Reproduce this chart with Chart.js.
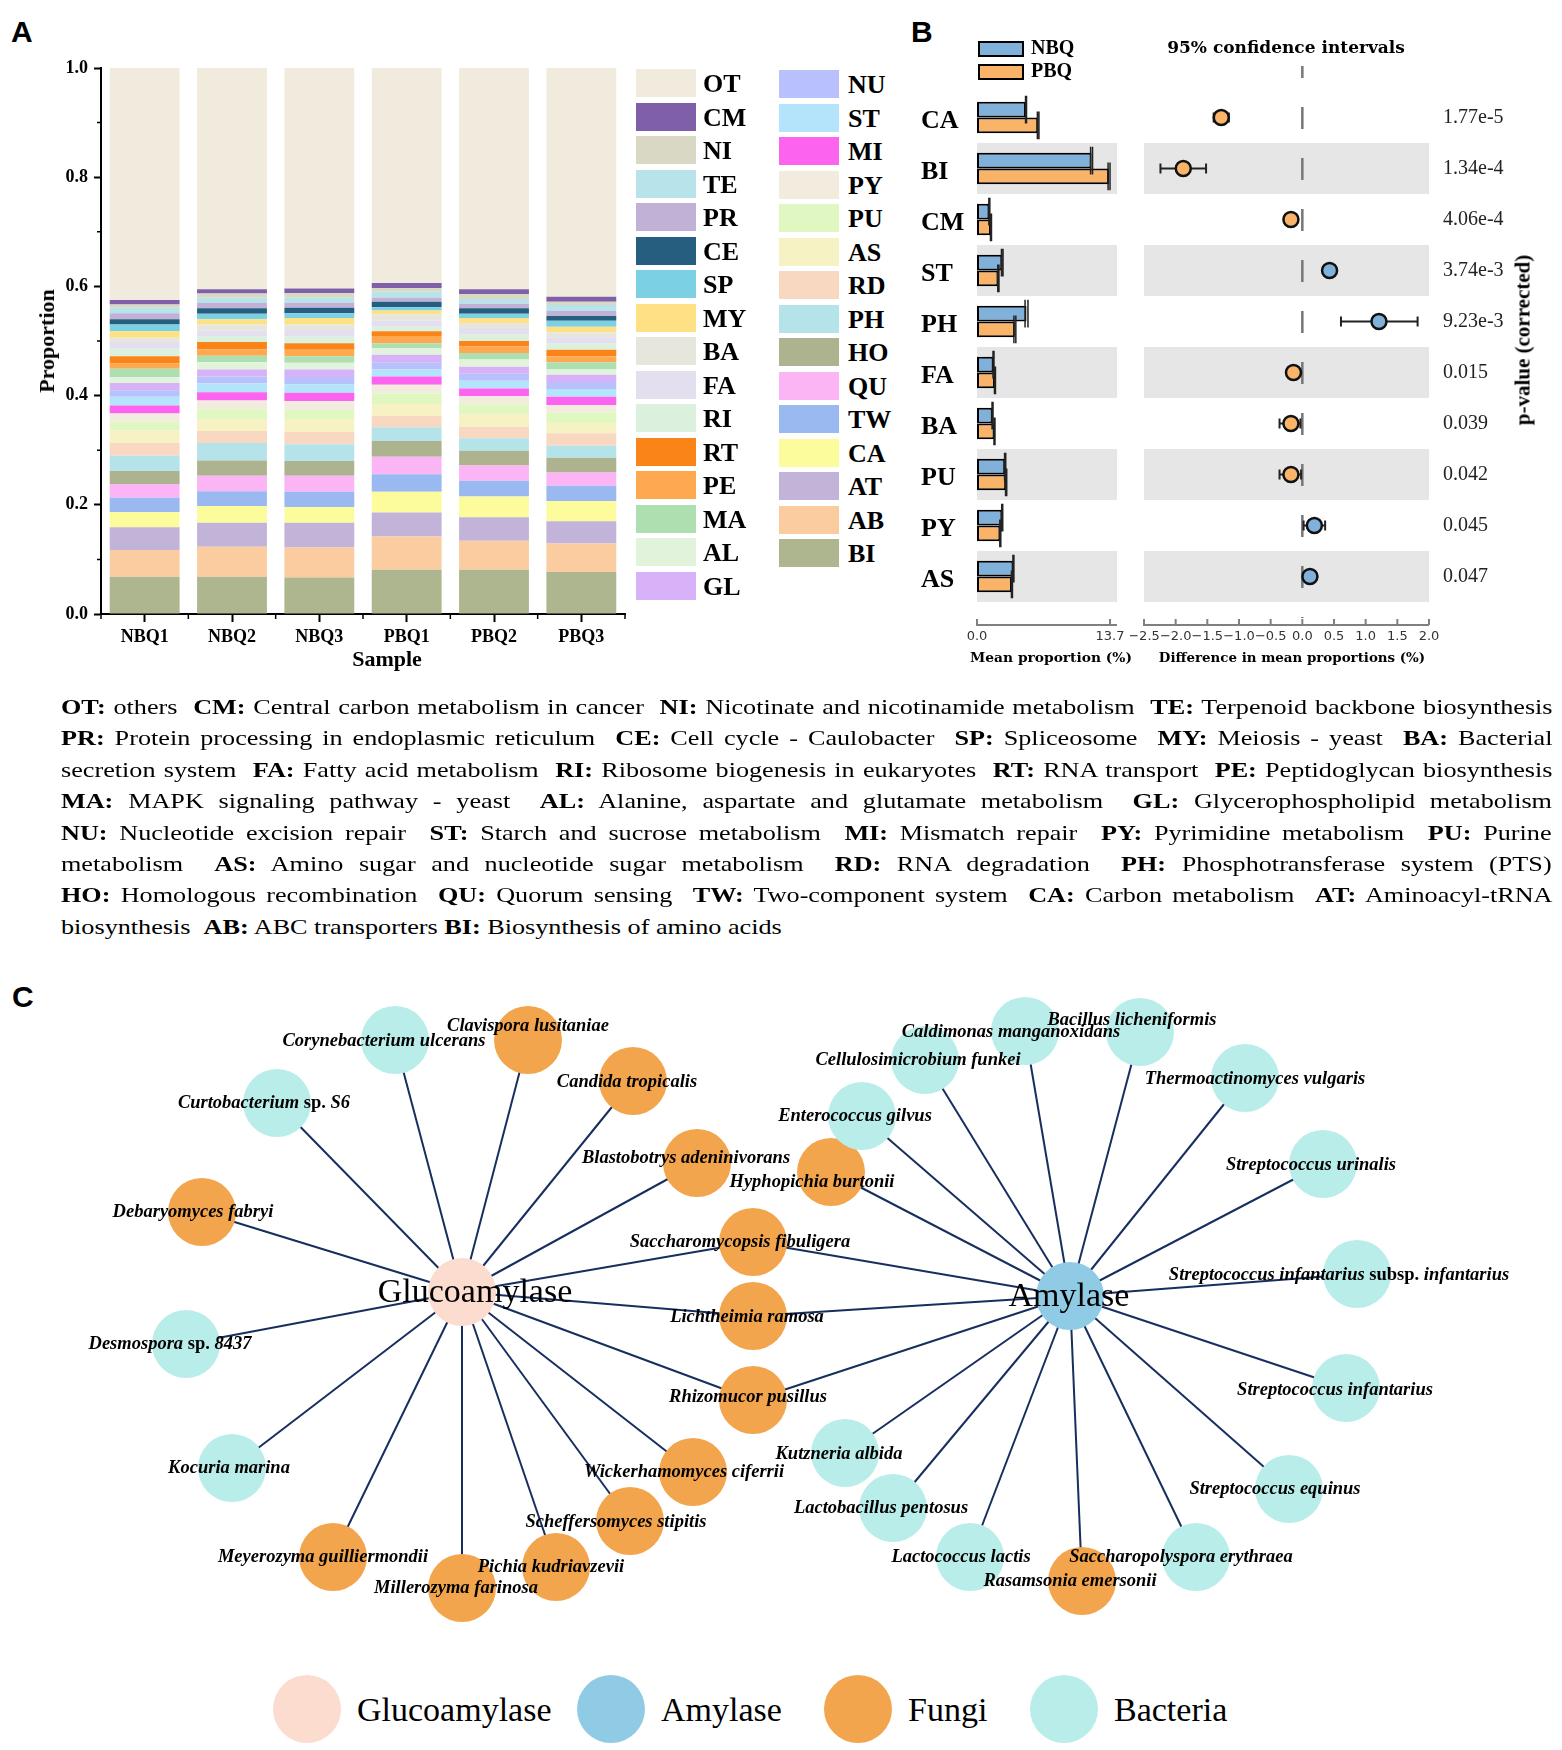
<!DOCTYPE html>
<html>
<head>
<meta charset="utf-8">
<title>Pathway abundance, STAMP comparison and enzyme networks</title>
<script src="https://cdn.jsdelivr.net/npm/chart.js@4.4.1/dist/chart.umd.min.js"></script>
<style>
  html, body { margin: 0; padding: 0; background: #fff; }
  #page { position: relative; width: 1562px; height: 1750px; overflow: hidden; font-family: "Liberation Serif", "Times New Roman", serif; color: #000; }
  #page canvas { position: absolute; }
  .t { position: absolute; white-space: nowrap; line-height: 1; }
  .panel { font-family: "Liberation Sans", Arial, sans-serif; font-weight: bold; font-size: 30px; }
  .sw { position: absolute; }
  .para { position: absolute; left: 61px; font-size: 22px; line-height: 31px; white-space: pre; transform: scaleX(1.19); transform-origin: 0 50%; }
  .dot { position: absolute; width: 68px; height: 68px; border-radius: 50%; }
</style>
</head>
<body>
<div id="page">
  <div class="t panel" style="left:11px;top:17px">A</div>
  <div class="t panel" style="left:911px;top:17px">B</div>
  <div class="t panel" style="left:12px;top:982px">C</div>
  <canvas id="chartA" width="640" height="660" style="left:0;top:40px"></canvas>
  <canvas id="chartB1" width="230" height="620" style="left:900px;top:60px"></canvas>
  <canvas id="chartB2" width="432" height="640" style="left:1130px;top:40px"></canvas>
  <canvas id="chartC" width="1562" height="700" style="left:0;top:960px"></canvas>
</div>
<script>
// ---------- A: relative abundance of KEGG pathways ----------
const samples = ['NBQ1', 'NBQ2', 'NBQ3', 'PBQ1', 'PBQ2', 'PBQ3'];
const pathways = ['OT', 'CM', 'NI', 'TE', 'PR', 'CE', 'SP', 'MY', 'BA', 'FA', 'RI', 'RT', 'PE', 'MA', 'AL', 'GL',
                  'NU', 'ST', 'MI', 'PY', 'PU', 'AS', 'RD', 'PH', 'HO', 'QU', 'TW', 'CA', 'AT', 'AB', 'BI'];
const pathwayColors = ['#f0ebdc', '#7f5fa8', '#d8d8c5', '#b9e3ea', '#c1b1d6', '#255e7e', '#7bd0e4', '#fde184',
                       '#e6e6dc', '#e3dfef', '#dbf0dd', '#fb8418', '#fea84f', '#aedfb1', '#e2f3dc', '#d7b2f8',
                       '#b9c1fc', '#b4e4fb', '#fc63ee', '#f2ecdf', '#e1f7c2', '#f6f2c3', '#f9d8c1', '#b4e3ea',
                       '#aeb38f', '#fbb5f5', '#9bb9f1', '#fdfc9d', '#c2b3d8', '#fbcca0', '#aeb690'];
// proportions per sample, in the order of `pathways`
const NBQ1 = [0.425, 0.008, 0.006, 0.010, 0.011, 0.010, 0.012, 0.012, 0.008, 0.012, 0.014, 0.013, 0.010, 0.015, 0.011, 0.013,
              0.012, 0.016, 0.015, 0.015, 0.016, 0.023, 0.023, 0.028, 0.024, 0.025, 0.026, 0.028, 0.042, 0.049, 0.068];
const NBQ2 = [0.405, 0.008, 0.008, 0.009, 0.010, 0.010, 0.010, 0.010, 0.011, 0.010, 0.011, 0.013, 0.012, 0.012, 0.013, 0.013,
              0.013, 0.016, 0.015, 0.016, 0.018, 0.022, 0.022, 0.032, 0.028, 0.028, 0.027, 0.031, 0.044, 0.055, 0.068];
const NBQ3 = [0.404, 0.008, 0.009, 0.009, 0.009, 0.010, 0.009, 0.012, 0.010, 0.012, 0.012, 0.012, 0.012, 0.012, 0.012, 0.014,
              0.013, 0.016, 0.015, 0.016, 0.017, 0.023, 0.023, 0.031, 0.027, 0.029, 0.028, 0.029, 0.045, 0.055, 0.067];
const PBQ1 = [0.394, 0.009, 0.007, 0.011, 0.007, 0.010, 0.006, 0.007, 0.012, 0.011, 0.008, 0.009, 0.013, 0.009, 0.012, 0.014,
              0.013, 0.013, 0.015, 0.016, 0.020, 0.021, 0.021, 0.025, 0.029, 0.032, 0.032, 0.038, 0.044, 0.061, 0.081];
const PBQ2 = [0.405, 0.009, 0.009, 0.009, 0.008, 0.010, 0.008, 0.009, 0.009, 0.012, 0.012, 0.010, 0.012, 0.012, 0.013, 0.013,
              0.013, 0.014, 0.014, 0.015, 0.018, 0.023, 0.021, 0.023, 0.027, 0.028, 0.029, 0.038, 0.043, 0.053, 0.081];
const PBQ3 = [0.419, 0.009, 0.006, 0.011, 0.009, 0.009, 0.011, 0.010, 0.009, 0.012, 0.011, 0.012, 0.011, 0.013, 0.010, 0.013,
              0.013, 0.014, 0.015, 0.014, 0.019, 0.019, 0.023, 0.022, 0.027, 0.024, 0.028, 0.037, 0.041, 0.052, 0.077];
const yTicksA = [0, 0.2, 0.4, 0.6, 0.8, 1.0];

// ---------- B: extended error bar (NBQ vs PBQ) ----------
const diffCats = ['CA', 'BI', 'CM', 'ST', 'PH', 'FA', 'BA', 'PU', 'PY', 'AS'];
const meanNBQ = [5.05, 11.8, 1.27, 2.6, 5.1, 1.7, 1.6, 2.9, 2.6, 3.75];
const meanPBQ = [6.3, 13.6, 1.44, 2.2, 3.9, 1.85, 1.8, 3.0, 2.4, 3.6];
const sdNBQ = [0.05, 0.1, 0.05, 0.08, 0.15, 0.05, 0.05, 0.06, 0.05, 0.05];
const sdPBQ = [0.08, 0.1, 0.05, 0.06, 0.1, 0.05, 0.05, 0.06, 0.05, 0.05];
const diffMean = [-1.28, -1.88, -0.18, 0.43, 1.21, -0.14, -0.18, -0.18, 0.19, 0.12];
const ciLow = [-1.40, -2.24, -0.21, 0.38, 0.61, -0.17, -0.36, -0.36, 0.02, 0.09];
const ciHigh = [-1.16, -1.52, -0.15, 0.48, 1.82, -0.11, -0.03, -0.02, 0.36, 0.15];
const pValues = ['1.77e-5', '1.34e-4', '4.06e-4', '3.74e-3', '9.23e-3', '0.015', '0.039', '0.042', '0.045', '0.047'];
const meanTicks = [0, 13.7];
const diffTicks = [-2.5, -2.0, -1.5, -1.0, -0.5, 0.0, 0.5, 1.0, 1.5, 2.0];

// ---------- C: enzyme - microbe network ----------
const nodeNames = ['Glucoamylase', 'Amylase',
  'Clavispora lusitaniae', 'Candida tropicalis', 'Blastobotrys adeninivorans', 'Debaryomyces fabryi',
  'Saccharomycopsis fibuligera', 'Lichtheimia ramosa', 'Rhizomucor pusillus', 'Wickerhamomyces ciferrii',
  'Scheffersomyces stipitis', 'Meyerozyma guilliermondii', 'Pichia kudriavzevii', 'Millerozyma farinosa',
  'Hyphopichia burtonii', 'Rasamsonia emersonii',
  'Corynebacterium ulcerans', 'Curtobacterium sp. S6', 'Desmospora sp. 8437', 'Kocuria marina',
  'Caldimonas manganoxidans', 'Bacillus licheniformis', 'Cellulosimicrobium funkei', 'Thermoactinomyces vulgaris',
  'Enterococcus gilvus', 'Streptococcus urinalis', 'Streptococcus infantarius subsp. infantarius',
  'Streptococcus infantarius', 'Kutzneria albida', 'Lactobacillus pentosus', 'Streptococcus equinus',
  'Lactococcus lactis', 'Saccharopolyspora erythraea'];
const nodeType = ['glucoamylase', 'amylase',
  'fungi', 'fungi', 'fungi', 'fungi', 'fungi', 'fungi', 'fungi', 'fungi', 'fungi', 'fungi', 'fungi', 'fungi', 'fungi', 'fungi',
  'bacteria', 'bacteria', 'bacteria', 'bacteria', 'bacteria', 'bacteria', 'bacteria', 'bacteria', 'bacteria',
  'bacteria', 'bacteria', 'bacteria', 'bacteria', 'bacteria', 'bacteria', 'bacteria', 'bacteria'];
// layout of the network (node centres and label anchors)
const nodeX = [462, 1070, 528, 633, 697, 202, 753, 753, 753, 693, 630, 333, 556, 462, 831, 1082,
               395, 277, 186, 232, 1025, 1140, 925, 1245, 862, 1323, 1357, 1346, 845, 893, 1289, 970, 1196];
const nodeY = [1292, 1296, 1040, 1081, 1163, 1212, 1242, 1316, 1400, 1472, 1521, 1557, 1567, 1588, 1172, 1581,
               1040, 1103, 1344, 1468, 1031, 1032, 1060, 1078, 1116, 1164, 1274, 1388, 1453, 1508, 1489, 1557, 1557];
const labelX = [475, 1069, 528, 627, 686, 193, 740, 747, 748, 684, 616, 323, 551, 456, 812, 1070,
                384, 264, 170, 229, 1011, 1132, 918, 1255, 855, 1311, 1339, 1335, 839, 881, 1275, 961, 1181];
const labelY = [1293, 1297, 1026, 1082, 1158, 1212, 1242, 1317, 1397, 1472, 1522, 1557, 1567, 1588, 1182, 1581,
                1041, 1103, 1344, 1468, 1032, 1020, 1060, 1079, 1116, 1165, 1275, 1390, 1454, 1508, 1489, 1557, 1557];
const glucoamylaseLinks = ['Corynebacterium ulcerans', 'Clavispora lusitaniae', 'Candida tropicalis', 'Curtobacterium sp. S6',
  'Blastobotrys adeninivorans', 'Debaryomyces fabryi', 'Saccharomycopsis fibuligera', 'Lichtheimia ramosa',
  'Desmospora sp. 8437', 'Rhizomucor pusillus', 'Kocuria marina', 'Meyerozyma guilliermondii', 'Millerozyma farinosa',
  'Pichia kudriavzevii', 'Scheffersomyces stipitis', 'Wickerhamomyces ciferrii'];
const amylaseLinks = ['Caldimonas manganoxidans', 'Bacillus licheniformis', 'Cellulosimicrobium funkei',
  'Thermoactinomyces vulgaris', 'Enterococcus gilvus', 'Hyphopichia burtonii', 'Streptococcus urinalis',
  'Streptococcus infantarius subsp. infantarius', 'Saccharomycopsis fibuligera', 'Lichtheimia ramosa', 'Rhizomucor pusillus',
  'Streptococcus infantarius', 'Kutzneria albida', 'Lactobacillus pentosus', 'Lactococcus lactis', 'Rasamsonia emersonii',
  'Saccharopolyspora erythraea', 'Streptococcus equinus'];
const legendC = [['Glucoamylase', 'glucoamylase'], ['Amylase', 'amylase'], ['Fungi', 'fungi'], ['Bacteria', 'bacteria']];

const NBQ_COLOR = '#80b1da';
const PBQ_COLOR = '#f9b46a';
const typeColors = { glucoamylase: '#fbdccf', amylase: '#90cbe5', fungi: '#f3a54e', bacteria: '#b9ede9' };
const EDGE_COLOR = '#172f5e';

Chart.defaults.font.family = '"Liberation Serif", "Times New Roman", serif';
Chart.defaults.color = '#000';
const page = document.getElementById('page');

function putText(txt, x, y, css, align) {
    const d = document.createElement('div');
    d.className = 't';
    d.textContent = txt;
    d.style.cssText += css;
    d.style.left = x + 'px';
    d.style.top = y + 'px';
    d.style.transform = align === 'left' ? 'translate(0,-50%)' : 'translate(-50%,-50%)';
    page.appendChild(d);
    return d;
}

// 1. PANEL A - STACKED BARS
const minorTicksA = {
    id: 'minorTicksA',
    afterDraw(chart) {
        const { ctx, chartArea, scales: { x, y } } = chart;
        ctx.save();
        ctx.strokeStyle = '#000';
        ctx.lineWidth = 1.5;
        ctx.beginPath();
        for (let k = 0; k < yTicksA.length - 1; k++) {
            const py = y.getPixelForValue((yTicksA[k] + yTicksA[k + 1]) / 2);
            ctx.moveTo(chartArea.left - 4, py);
            ctx.lineTo(chartArea.left, py);
        }
        const half = (x.getPixelForValue(1) - x.getPixelForValue(0)) / 2;
        for (let i = 0; i <= samples.length; i++) {
            const px = x.getPixelForValue(i) - half;
            ctx.moveTo(px, chartArea.bottom);
            ctx.lineTo(px, chartArea.bottom + 5);
        }
        ctx.stroke();
        ctx.restore();
    }
};

const sampleRows = [NBQ1, NBQ2, NBQ3, PBQ1, PBQ2, PBQ3];
const datasetsA = pathways.map((p, k) => ({
    label: p,
    data: sampleRows.map(r => r[k]),
    backgroundColor: pathwayColors[k],
    borderWidth: 0,
    barPercentage: 0.8,
    categoryPercentage: 1.0
})).reverse();

new Chart(document.getElementById('chartA'), {
    type: 'bar',
    data: { labels: samples, datasets: datasetsA },
    options: {
        responsive: false, animation: false, devicePixelRatio: 1,
        layout: { padding: { left: 0, top: 28, right: 15, bottom: 0 } },
        plugins: { legend: { display: false }, tooltip: { enabled: false } },
        scales: {
            x: {
                stacked: true,
                grid: { offset: false, drawOnChartArea: false, tickLength: 8, tickWidth: 2, tickColor: '#000' },
                border: { color: '#000', width: 2 },
                ticks: { font: { size: 18, weight: 'bold' }, color: '#000', padding: 5, maxRotation: 0 },
                afterFit: s => { s.height = 86; }
            },
            y: {
                stacked: true, min: 0, max: 1,
                afterBuildTicks: s => { s.ticks = yTicksA.map(v => ({ value: v })); },
                grid: { drawOnChartArea: false, tickLength: 7, tickWidth: 2, tickColor: '#000' },
                border: { color: '#000', width: 2 },
                ticks: { font: { size: 18, weight: 'bold' }, color: '#000', padding: 6, callback: v => Number(v).toFixed(1) },
                afterFit: s => { s.width = 101; }
            }
        }
    },
    plugins: [minorTicksA]
});

putText('Proportion', 47, 341, 'font-size:22px;font-weight:bold;').style.transform = 'translate(-50%,-50%) rotate(-90deg)';
putText('Sample', 387, 659, 'font-size:22px;font-weight:bold;');

// legend of panel A (two columns)
pathways.forEach((p, k) => {
    const col = k < 16 ? 0 : 1;
    const row = col ? k - 16 : k;
    const top = (col ? 70 : 69) + row * 33.5;
    const sw = document.createElement('div');
    sw.className = 'sw';
    sw.style.cssText = `left:${col ? 779 : 636}px;top:${top}px;width:60px;height:28px;background:${pathwayColors[k]};`;
    page.appendChild(sw);
    putText(p, col ? 848 : 703, top + 15, 'font-size:26px;font-weight:bold;', 'left');
});

// 2. PANEL B - MEAN PROPORTIONS AND 95% CI
const rowBands = {
    id: 'rowBands',
    beforeDatasetsDraw(chart) {
        const { ctx, chartArea, scales } = chart;
        const ys = scales.y;
        const pitch = ys.getPixelForValue(1) - ys.getPixelForValue(0);
        ctx.save();
        ctx.fillStyle = '#e6e6e6';
        diffCats.forEach((c, i) => {
            if (i % 2 === 1) {
                const py = ys.getPixelForValue(i);
                ctx.fillRect(chartArea.left, py - pitch / 2, chartArea.right - chartArea.left, pitch);
            }
        });
        ctx.restore();
    }
};

function bottomAxis(ticks, fmt) {
    return {
        id: 'bottomAxis',
        afterDraw(chart) {
            const { ctx, chartArea, scales: { x } } = chart;
            const y0 = chartArea.bottom + 23;
            ctx.save();
            ctx.strokeStyle = '#808080';
            ctx.lineWidth = 2;
            ctx.beginPath();
            ctx.moveTo(chartArea.left - 1, y0);
            ctx.lineTo(chartArea.right, y0);
            ticks.forEach(v => {
                const px = x.getPixelForValue(v);
                ctx.moveTo(px, y0);
                ctx.lineTo(px, y0 - 6);
            });
            ctx.stroke();
            ctx.fillStyle = '#333';
            ctx.font = '13px "DejaVu Sans"';
            ctx.textAlign = 'center';
            ctx.textBaseline = 'middle';
            ticks.forEach(v => ctx.fillText(fmt(v), x.getPixelForValue(v), y0 + 12));
            ctx.restore();
        }
    };
}

const barErrors = {
    id: 'barErrors',
    afterDatasetsDraw(chart) {
        const { ctx, scales: { x } } = chart;
        ctx.save();
        ctx.strokeStyle = '#222';
        ctx.lineWidth = 1.5;
        chart.data.datasets.forEach((ds, di) => {
            chart.getDatasetMeta(di).data.forEach((bar, i) => {
                const top = bar.y - bar.height / 2 - 6, bottom = bar.y + bar.height / 2 + 6;
                ctx.beginPath();
                [ds.data[i] - ds.sd[i], ds.data[i] + ds.sd[i]].forEach(v => {
                    const px = x.getPixelForValue(v);
                    ctx.moveTo(px, top);
                    ctx.lineTo(px, bottom);
                });
                ctx.stroke();
            });
        });
        ctx.restore();
    }
};

new Chart(document.getElementById('chartB1'), {
    type: 'bar',
    data: {
        labels: diffCats,
        datasets: [
            { label: 'NBQ', data: meanNBQ, sd: sdNBQ, backgroundColor: NBQ_COLOR, borderColor: '#000', borderWidth: 2, borderSkipped: false, barPercentage: 1, categoryPercentage: 0.62 },
            { label: 'PBQ', data: meanPBQ, sd: sdPBQ, backgroundColor: PBQ_COLOR, borderColor: '#000', borderWidth: 2, borderSkipped: false, barPercentage: 1, categoryPercentage: 0.62 }
        ]
    },
    options: {
        indexAxis: 'y', responsive: false, animation: false, devicePixelRatio: 1,
        layout: { autoPadding: false, padding: { left: 21, top: 32, right: 13, bottom: 78 } },
        plugins: { legend: { display: false }, tooltip: { enabled: false } },
        scales: {
            x: { display: false, min: 0, max: 14.42 },
            y: {
                grid: { display: false }, border: { display: false },
                ticks: { font: { size: 26, weight: 'bold' }, color: '#000', crossAlign: 'far', padding: 0, labelOffset: 4 },
                afterFit: s => { s.width = 56; }
            }
        }
    },
    plugins: [rowBands, barErrors, bottomAxis(meanTicks, v => v.toFixed(1))]
});

const zeroLine = {
    id: 'zeroLine',
    beforeDatasetsDraw(chart) {
        const { ctx, chartArea, scales: { x } } = chart;
        const px = x.getPixelForValue(0);
        ctx.save();
        ctx.strokeStyle = '#777';
        ctx.lineWidth = 2.5;
        ctx.setLineDash([22, 29]);
        ctx.lineDashOffset = 10;
        ctx.beginPath();
        ctx.moveTo(px, chartArea.top - 26);
        ctx.lineTo(px, chartArea.bottom + 16);
        ctx.stroke();
        ctx.restore();
    }
};

const ciBars = {
    id: 'ciBars',
    beforeDatasetsDraw(chart) {
        const { ctx, scales: { x, y } } = chart;
        ctx.save();
        ctx.strokeStyle = '#222';
        ctx.lineWidth = 2;
        diffCats.forEach((c, i) => {
            const py = y.getPixelForValue(i);
            const x1 = x.getPixelForValue(ciLow[i]), x2 = x.getPixelForValue(ciHigh[i]);
            ctx.beginPath();
            ctx.moveTo(x1, py); ctx.lineTo(x2, py);
            ctx.moveTo(x1, py - 5); ctx.lineTo(x1, py + 5);
            ctx.moveTo(x2, py - 5); ctx.lineTo(x2, py + 5);
            ctx.stroke();
        });
        ctx.restore();
    }
};

new Chart(document.getElementById('chartB2'), {
    type: 'scatter',
    data: {
        datasets: [{
            data: diffCats.map((c, i) => ({ x: diffMean[i], y: c })),
            pointRadius: 7.5,
            borderWidth: 2.5,
            borderColor: '#111',
            backgroundColor: diffMean.map(v => v < 0 ? PBQ_COLOR : NBQ_COLOR)
        }]
    },
    options: {
        responsive: false, animation: false, devicePixelRatio: 1,
        layout: { autoPadding: false, padding: { left: 14, top: 52, right: 0, bottom: 78 } },
        plugins: { legend: { display: false }, tooltip: { enabled: false } },
        scales: {
            x: { type: 'linear', display: false, min: -2.5, max: 2.0 },
            y: { type: 'category', labels: diffCats, offset: true, display: false },
            p: {
                type: 'category', labels: pValues, position: 'right', offset: true,
                grid: { display: false }, border: { display: false },
                ticks: { font: { size: 20 }, color: '#222', padding: 6, crossAlign: 'near' },
                afterFit: s => { s.width = 133; }
            }
        }
    },
    plugins: [rowBands, zeroLine, ciBars, bottomAxis(diffTicks, v => v.toFixed(1).replace('-', '\u2212'))]
});

// titles and legend of panel B
putText('95% confidence intervals', 1286, 47, 'font-family:"DejaVu Serif";font-weight:bold;font-size:17px;');
putText('Mean proportion (%)', 1051, 658, 'font-family:"DejaVu Serif";font-weight:bold;font-size:13.8px;');
putText('Difference in mean proportions (%)', 1292, 658, 'font-family:"DejaVu Serif";font-weight:bold;font-size:13.4px;');
putText('p-value (corrected)', 1523, 340, 'font-size:21px;font-weight:bold;').style.transform = 'translate(-50%,-50%) rotate(-90deg)';
[['NBQ', NBQ_COLOR, 41], ['PBQ', PBQ_COLOR, 64]].forEach(([name, color, top]) => {
    const sw = document.createElement('div');
    sw.className = 'sw';
    sw.style.cssText = `left:978px;top:${top}px;width:42px;height:12px;background:${color};border:2px solid #000;`;
    page.appendChild(sw);
    putText(name, 1031, top + 6, 'font-size:20px;font-weight:bold;', 'left');
});

// 3. ABBREVIATION TEXT
const paraLines = [
    '<b>OT:</b> others  <b>CM:</b> Central carbon metabolism in cancer  <b>NI:</b> Nicotinate and nicotinamide metabolism  <b>TE:</b> Terpenoid backbone biosynthesis',
    '<b>PR:</b> Protein processing in endoplasmic reticulum  <b>CE:</b> Cell cycle - Caulobacter  <b>SP:</b> Spliceosome  <b>MY:</b> Meiosis - yeast  <b>BA:</b> Bacterial',
    'secretion system  <b>FA:</b> Fatty acid metabolism  <b>RI:</b> Ribosome biogenesis in eukaryotes  <b>RT:</b> RNA transport  <b>PE:</b> Peptidoglycan biosynthesis',
    '<b>MA:</b> MAPK signaling pathway - yeast  <b>AL:</b> Alanine, aspartate and glutamate metabolism  <b>GL:</b> Glycerophospholipid metabolism',
    '<b>NU:</b> Nucleotide excision repair  <b>ST:</b> Starch and sucrose metabolism  <b>MI:</b> Mismatch repair  <b>PY:</b> Pyrimidine metabolism  <b>PU:</b> Purine',
    'metabolism  <b>AS:</b> Amino sugar and nucleotide sugar metabolism  <b>RD:</b> RNA degradation  <b>PH:</b> Phosphotransferase system (PTS)',
    '<b>HO:</b> Homologous recombination  <b>QU:</b> Quorum sensing  <b>TW:</b> Two-component system  <b>CA:</b> Carbon metabolism  <b>AT:</b> Aminoacyl-tRNA',
    'biosynthesis  <b>AB:</b> ABC transporters <b>BI:</b> Biosynthesis of amino acids'
];
const PARA_SCALE = 1.19;
paraLines.forEach((html, i) => {
    const d = document.createElement('div');
    d.className = 'para';
    d.innerHTML = html;
    d.style.top = (691 + i * 31.4) + 'px';
    page.appendChild(d);
    if (i < paraLines.length - 1) {
        const natural = d.offsetWidth;
        const spaces = (d.textContent.match(/ /g) || []).length;
        d.style.wordSpacing = ((1491 / PARA_SCALE - natural) / spaces) + 'px';
    }
});

// 4. PANEL C - NETWORK
const nodeLabels = {
    id: 'nodeLabels',
    afterDatasetsDraw(chart) {
        const { ctx, scales: { x, y } } = chart;
        ctx.save();
        ctx.fillStyle = '#000';
        ctx.textBaseline = 'middle';
        nodeNames.forEach((name, i) => {
            const cx = x.getPixelForValue(labelX[i]), cy = y.getPixelForValue(labelY[i]);
            if (nodeType[i] === 'glucoamylase' || nodeType[i] === 'amylase') {
                ctx.font = '34px "Liberation Serif"';
                ctx.textAlign = 'center';
                ctx.fillText(name, cx, cy);
                return;
            }
            ctx.textAlign = 'left';
            const parts = name.split(' ').map(w => ({
                w, f: (w === 'sp.' || w === 'subsp.') ? 'bold 18.5px "Liberation Serif"' : 'italic bold 18.5px "Liberation Serif"'
            }));
            ctx.font = 'italic bold 18.5px "Liberation Serif"';
            const sp = ctx.measureText(' ').width;
            let total = 0;
            parts.forEach((p, k) => { ctx.font = p.f; p.width = ctx.measureText(p.w).width; total += p.width + (k ? sp : 0); });
            let px = cx - total / 2;
            parts.forEach(p => { ctx.font = p.f; ctx.fillText(p.w, px, cy); px += p.width + sp; });
        });
        ctx.restore();
    }
};

const edgeSets = [];
[['Glucoamylase', glucoamylaseLinks], ['Amylase', amylaseLinks]].forEach(([hub, targets]) => {
    const a = nodeNames.indexOf(hub);
    targets.forEach(t => {
        const b = nodeNames.indexOf(t);
        edgeSets.push({
            data: [{ x: nodeX[a], y: nodeY[a] }, { x: nodeX[b], y: nodeY[b] }],
            showLine: true, pointRadius: 0, borderColor: EDGE_COLOR, borderWidth: 2, order: 1
        });
    });
});

new Chart(document.getElementById('chartC'), {
    type: 'scatter',
    data: {
        datasets: [{
            data: nodeNames.map((n, i) => ({ x: nodeX[i], y: nodeY[i] })),
            pointRadius: 34,
            borderWidth: 0,
            backgroundColor: nodeType.map(t => typeColors[t]),
            order: 0
        }, ...edgeSets]
    },
    options: {
        responsive: false, animation: false, devicePixelRatio: 1,
        layout: { autoPadding: false, padding: 0 },
        plugins: { legend: { display: false }, tooltip: { enabled: false } },
        scales: {
            x: { type: 'linear', display: false, min: 0, max: 1562 },
            y: { type: 'linear', display: false, min: 960, max: 1660, reverse: true }
        }
    },
    plugins: [nodeLabels]
});

// legend of panel C
[273, 577, 824, 1030].forEach((left, k) => {
    const dot = document.createElement('div');
    dot.className = 'dot';
    dot.style.left = left + 'px';
    dot.style.top = '1675px';
    dot.style.background = typeColors[legendC[k][1]];
    page.appendChild(dot);
    putText(legendC[k][0], left + 84, 1710, 'font-size:34px;', 'left');
});
</script>
</body>
</html>
